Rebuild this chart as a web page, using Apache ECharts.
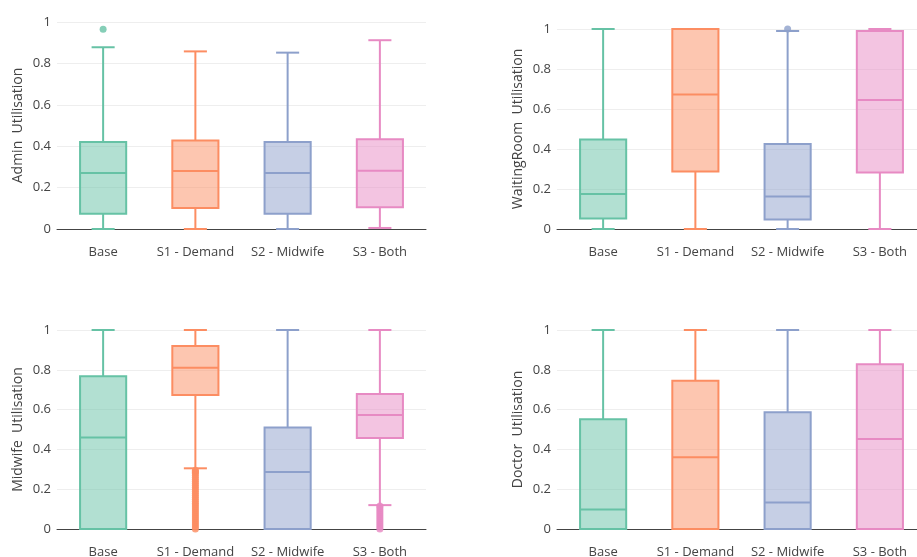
<!DOCTYPE html>
<html>
<head>
<meta charset="utf-8">
<script src="https://cdn.jsdelivr.net/npm/echarts@6/dist/echarts.min.js"></script>
<style>html,body{margin:0;padding:0;background:#fff}#c{width:917px;height:557px}</style>
</head>
<body>
<div id="c"></div>
<script>
// ---- data ----
const categories = ['Base', 'S1 - Demand', 'S2 - Midwife', 'S3 - Both'];
const panelTitles = ['Admin  Utilisation', 'WaitingRoom  Utilisation', 'Midwife  Utilisation', 'Doctor  Utilisation'];
// each row: [min, q1, median, q3, max] per category
const adminStats = [
  [0.000, 0.074, 0.270, 0.420, 0.878],
  [0.000, 0.102, 0.280, 0.428, 0.858],
  [0.000, 0.074, 0.270, 0.420, 0.852],
  [0.005, 0.105, 0.282, 0.433, 0.912]
];
const waitingStats = [
  [0.000, 0.052, 0.175, 0.448, 1.000],
  [0.000, 0.287, 0.673, 1.000, 1.000],
  [0.000, 0.048, 0.162, 0.425, 0.990],
  [0.000, 0.283, 0.645, 0.990, 1.000]
];
const midwifeStats = [
  [0.000, 0.000, 0.460, 0.768, 1.000],
  [0.305, 0.673, 0.810, 0.920, 1.000],
  [0.000, 0.000, 0.287, 0.510, 1.000],
  [0.120, 0.457, 0.573, 0.678, 1.000]
];
const doctorStats = [
  [0.000, 0.000, 0.098, 0.552, 1.000],
  [0.000, 0.000, 0.360, 0.745, 1.000],
  [0.000, 0.000, 0.133, 0.587, 1.000],
  [0.000, 0.000, 0.452, 0.828, 1.000]
];
// outliers: [categoryIndex, value]
const adminOutliers = [[0, 0.965]];
const waitingOutliers = [[2, 1.0]];
const midwifeOutliers = [
  [1, 0.295], [1, 0.29], [1, 0.285], [1, 0.28], [1, 0.27], [1, 0.26], [1, 0.25], [1, 0.24],
  [1, 0.23], [1, 0.22], [1, 0.21], [1, 0.20], [1, 0.19], [1, 0.18], [1, 0.17], [1, 0.16],
  [1, 0.15], [1, 0.14], [1, 0.13], [1, 0.12], [1, 0.11], [1, 0.10], [1, 0.09], [1, 0.08],
  [1, 0.07], [1, 0.06], [1, 0.05], [1, 0.04], [1, 0.03], [1, 0.02], [1, 0.01], [1, 0.0],
  [3, 0.115], [3, 0.11], [3, 0.10], [3, 0.09], [3, 0.08], [3, 0.07], [3, 0.06], [3, 0.05],
  [3, 0.04], [3, 0.03], [3, 0.02], [3, 0.01], [3, 0.0]
];
const doctorOutliers = [];

// ---- styling ----
const palette = ['#66c2a5', '#fc8d62', '#8da0cb', '#e78ac3'];
const fills = ['rgba(102,194,165,0.5)', 'rgba(252,141,98,0.5)', 'rgba(141,160,203,0.5)', 'rgba(231,138,195,0.5)'];
const FONT = '"Open Sans", verdana, arial, sans-serif';

const panels = [
  { stats: adminStats, outliers: adminOutliers, grid: { left: 57, top: 22, width: 369, height: 207 } },
  { stats: waitingStats, outliers: waitingOutliers, grid: { left: 557, top: 29, width: 369, height: 200 } },
  { stats: midwifeStats, outliers: midwifeOutliers, grid: { left: 57, top: 330, width: 369, height: 199 } },
  { stats: doctorStats, outliers: doctorOutliers, grid: { left: 557, top: 330, width: 369, height: 199 } }
];

function renderBox(params, api) {
  const xi = api.value(0);
  const band = api.size([1, 0])[0];
  const bw = band * 0.5;
  const cap = bw * 0.5;
  const pt = v => api.coord([xi, v]);
  const lo = pt(api.value(1)), q1 = pt(api.value(2)), md = pt(api.value(3)), q3 = pt(api.value(4)), hi = pt(api.value(5));
  const cx = md[0];
  const c = palette[xi];
  const ls = { stroke: c, lineWidth: 2 };
  return {
    type: 'group',
    children: [
      { type: 'line', shape: { x1: cx, y1: q3[1], x2: cx, y2: hi[1] }, style: ls },
      { type: 'line', shape: { x1: cx, y1: q1[1], x2: cx, y2: lo[1] }, style: ls },
      { type: 'line', shape: { x1: cx - cap / 2, y1: hi[1], x2: cx + cap / 2, y2: hi[1] }, style: ls },
      { type: 'line', shape: { x1: cx - cap / 2, y1: lo[1], x2: cx + cap / 2, y2: lo[1] }, style: ls },
      { type: 'rect', shape: { x: cx - bw / 2, y: q3[1], width: bw, height: q1[1] - q3[1] },
        style: { fill: fills[xi], stroke: c, lineWidth: 2 } },
      { type: 'line', shape: { x1: cx - bw / 2, y1: md[1], x2: cx + bw / 2, y2: md[1] }, style: ls }
    ]
  };
}

const option = { animation: false, backgroundColor: '#fff', grid: [], xAxis: [], yAxis: [], series: [] };
panels.forEach((p, i) => {
  option.grid.push(Object.assign({ outerBoundsMode: 'none', containLabel: false }, p.grid));
  option.xAxis.push({
    type: 'category', gridIndex: i, data: categories,
    axisLine: { show: true, lineStyle: { color: '#444', width: 1 } },
    axisTick: { show: false },
    axisLabel: { color: '#444', fontSize: 13, fontFamily: FONT, margin: 17, interval: 0 },
    splitLine: { show: false }
  });
  option.yAxis.push({
    type: 'value', gridIndex: i, min: 0, max: 1, interval: 0.2,
    name: panelTitles[i], nameLocation: 'middle', nameGap: 32, nameRotate: 90,
    nameTextStyle: { color: '#444', fontSize: 14, fontFamily: FONT },
    axisLine: { show: false }, axisTick: { show: false },
    axisLabel: { color: '#444', fontSize: 13, fontFamily: FONT, margin: 6 },
    splitLine: { show: true, lineStyle: { color: '#eeeeee', width: 1 } }
  });
  option.series.push({
    type: 'custom', xAxisIndex: i, yAxisIndex: i,
    data: p.stats.map((s, k) => [k, s[0], s[1], s[2], s[3], s[4]]),
    encode: { x: 0, y: [1, 2, 3, 4, 5] },
    renderItem: renderBox, z: 3
  });
  option.series.push({
    type: 'scatter', xAxisIndex: i, yAxisIndex: i, symbolSize: 7, z: 4,
    data: p.outliers.map(o => ({ value: o, itemStyle: { color: palette[o[0]] } }))
  });
});

const chart = echarts.init(document.getElementById('c'), null, { renderer: 'canvas' });
chart.setOption(option);
</script>
</body>
</html>
